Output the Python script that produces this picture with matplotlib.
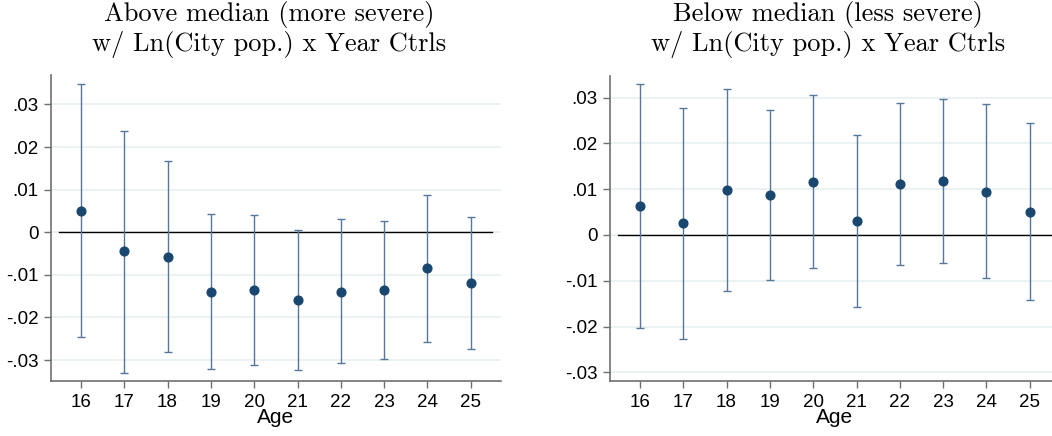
import matplotlib
matplotlib.use("Agg")
import matplotlib.pyplot as plt
import numpy as np

plt.rcParams['font.family'] = ['Liberation Sans', 'DejaVu Sans']

ages = [16, 17, 18, 19, 20, 21, 22, 23, 24, 25]

above_coef = [0.0051, -0.0045, -0.0057, -0.0139, -0.0136, -0.0159, -0.0139, -0.0136, -0.0085, -0.0120]
above_hi = [0.0347, 0.0238, 0.0168, 0.0044, 0.0040, 0.0006, 0.0032, 0.0027, 0.0087, 0.0036]
above_lo = [-0.0246, -0.0330, -0.0282, -0.0322, -0.0311, -0.0323, -0.0307, -0.0298, -0.0257, -0.0274]

below_coef = [0.0063, 0.0025, 0.0098, 0.0087, 0.0116, 0.0031, 0.0111, 0.0117, 0.0094, 0.0050]
below_hi = [0.0330, 0.0277, 0.0319, 0.0272, 0.0305, 0.0218, 0.0289, 0.0296, 0.0285, 0.0244]
below_lo = [-0.0203, -0.0228, -0.0123, -0.0098, -0.0073, -0.0157, -0.0066, -0.0062, -0.0095, -0.0142]

ytick_vals = [-0.03, -0.02, -0.01, 0, 0.01, 0.02, 0.03]
ytick_labels = ['-.03', '-.02', '-.01', '0', '.01', '.02', '.03']

titles = [
    ('Above median (more severe)', 'w/ Ln(City pop.) x Year Ctrls'),
    ('Below median (less severe)', 'w/ Ln(City pop.) x Year Ctrls'),
]

W, H = 1052, 436
fig = plt.figure(figsize=(W / 100, H / 100), dpi=100)

navy = '#1a476f'
bar_col = '#56779a'
grid_col = '#e9f1f2'
spine_col = '#707070'

panels = [
    dict(left=51, top=75, coef=above_coef, lo=above_lo, hi=above_hi, ylim=(-0.0349, 0.0369)),
    dict(left=610, top=76, coef=below_coef, lo=below_lo, hi=below_hi, ylim=(-0.0319, 0.0347)),
]

for p, (t1, t2) in zip(panels, titles):
    width_px = 449.7
    bottom_px = 381
    ax = fig.add_axes([p['left'] / W, 1 - bottom_px / H, width_px / W, (bottom_px - p['top']) / H])
    ax.set_xlim(15.31, 25.69)
    ax.set_ylim(*p['ylim'])
    ax.set_yticks(ytick_vals)
    ax.set_yticklabels(ytick_labels)
    ax.set_xticks(ages)
    ax.set_xticklabels([str(a) for a in ages])
    ax.grid(axis='y', color=grid_col, linewidth=1.3)
    ax.set_axisbelow(True)
    for s in ['top', 'right']:
        ax.spines[s].set_visible(False)
    for s in ['left', 'bottom']:
        ax.spines[s].set_color(spine_col)
        ax.spines[s].set_linewidth(1.2)
    ax.tick_params(axis='both', direction='out', length=5, width=1.0, color=spine_col,
                   labelsize=13.5, labelcolor='black', pad=4)
    ax.plot([15.5, 25.5], [0, 0], color='black', linewidth=1.0, zorder=2)
    coef = np.array(p['coef'])
    lo = np.array(p['lo'])
    hi = np.array(p['hi'])
    ax.errorbar(ages, coef, yerr=[coef - lo, hi - coef], fmt='none', ecolor=bar_col,
                elinewidth=1.0, capsize=3, capthick=1.0, zorder=3)
    ax.plot(ages, coef, 'o', color=navy, markersize=6.3, zorder=4)
    ax.set_xlabel('Age', fontsize=15, labelpad=-2)
    cx = (p['left'] + width_px / 2 - 7) / W
    fig.text(cx, 1 - 14 / H, t1, ha='center', va='center', fontsize=19, family='cmr10')
    fig.text(cx, 1 - 45 / H, t2, ha='center', va='center', fontsize=19, family='cmr10')

fig.savefig('out.png', dpi=100)
